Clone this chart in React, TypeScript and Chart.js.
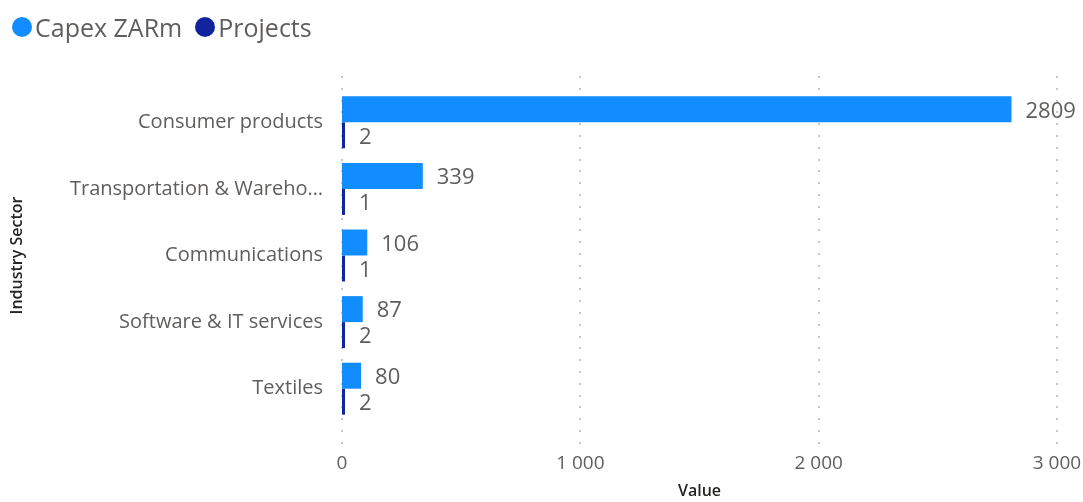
import React, { useEffect, useRef } from "react";
import { Chart, registerables } from "chart.js";

Chart.register(...registerables);

const categories = [
  "Consumer products",
  "Transportation & Wareho…",
  "Communications",
  "Software & IT services",
  "Textiles",
];
const capexValues = [2809, 339, 106, 87, 80];
const projectValues = [2, 1, 1, 2, 2];
const xTicks = [0, 1000, 2000, 3000];

const FONT = "'Segoe UI', 'Open Sans', sans-serif";
const LABEL_COLOR = "#605E5C";
const TITLE_COLOR = "#252423";
const CAPEX_COLOR = "#118DFF";
const PROJ_COLOR = "#12239E";

const fmt = (v: number) => String(Math.round(v)).replace(/\B(?=(\d{3})+(?!\d))/g, " ");

const dotGrid = {
  id: "dotGrid",
  beforeDatasetsDraw(chart: any) {
    const { ctx, scales } = chart;
    const x = scales.x;
    ctx.save();
    ctx.fillStyle = "#C8C6C4";
    for (const t of xTicks) {
      const px = Math.round(x.getPixelForValue(t));
      for (let y = 76; y <= 446; y += 11.8) {
        ctx.fillRect(px - 1, Math.round(y), 2, 2);
      }
    }
    ctx.restore();
  },
};

const dataLabels = {
  id: "dataLabels",
  afterDatasetsDraw(chart: any) {
    const { ctx } = chart;
    ctx.save();
    ctx.font = `22px ${FONT}`;
    ctx.fillStyle = LABEL_COLOR;
    ctx.textAlign = "left";
    ctx.textBaseline = "middle";
    chart.data.datasets.forEach((ds: any, di: number) => {
      const meta = chart.getDatasetMeta(di);
      meta.data.forEach((bar: any, i: number) => {
        ctx.fillText(String(ds.data[i]), bar.x + 14, bar.y + 2);
      });
    });
    ctx.restore();
  },
};

export default function App() {
  const ref = useRef<HTMLCanvasElement>(null);
  useEffect(() => {
    if (!ref.current) return;
    const chart = new Chart(ref.current, {
      type: "bar",
      data: {
        labels: categories,
        datasets: [
          {
            label: "Capex ZARm",
            data: capexValues,
            backgroundColor: CAPEX_COLOR,
            barPercentage: 1,
            categoryPercentage: 0.78,
          },
          {
            label: "Projects",
            data: projectValues,
            backgroundColor: PROJ_COLOR,
            barPercentage: 1,
            categoryPercentage: 0.78,
            minBarLength: 3,
          },
        ],
      },
      options: {
        indexAxis: "y",
        animation: false,
        responsive: false,
        maintainAspectRatio: false,
        layout: { padding: { top: 89, right: 0, left: 0, bottom: 0 } },
        plugins: { legend: { display: false }, tooltip: { enabled: false } },
        scales: {
          x: {
            min: 0,
            max: 3000,
            grid: { display: false, drawTicks: false },
            border: { display: false },
            afterBuildTicks(scale: any) {
              scale.ticks = xTicks.map((v) => ({ value: v }));
            },
            afterFit(scale: any) {
              scale.height = 80;
              scale.paddingRight = 26;
            },
            ticks: {
              padding: 30,
              color: LABEL_COLOR,
              font: { family: FONT, size: 19 },
              callback: (v: any) => fmt(Number(v)),
            },
            title: {
              display: true,
              text: "Value",
              color: TITLE_COLOR,
              font: { family: FONT, size: 16, weight: 600 },
              padding: { top: 0, bottom: 1 },
            },
          },
          y: {
            grid: { display: false, drawTicks: false },
            border: { display: false },
            afterFit(scale: any) {
              scale.width = 342;
            },
            ticks: {
              padding: 19,
              color: LABEL_COLOR,
              font: { family: FONT, size: 20 },
            },
            title: {
              display: true,
              text: "Industry Sector",
              color: TITLE_COLOR,
              font: { family: FONT, size: 16, weight: 600 },
              padding: { top: 8, bottom: 0 },
            },
          },
        },
      },
      plugins: [dotGrid, dataLabels],
    });
    return () => chart.destroy();
  }, []);

  const legendItem = (color: string, text: string, ml: number) => (
    <div style={{ display: "flex", alignItems: "center", marginLeft: ml }}>
      <span
        style={{
          width: 20,
          height: 20,
          borderRadius: "50%",
          background: color,
          display: "inline-block",
          marginRight: 3,
        }}
      />
      <span style={{ fontSize: 25, color: LABEL_COLOR, fontFamily: FONT }}>{text}</span>
    </div>
  );

  return (
    <div style={{ position: "absolute", left: 0, top: 0, width: 1083, height: 502, background: "#fff" }}>
      <canvas ref={ref} width={1083} height={502} style={{ position: "absolute", left: 0, top: 0 }} />
      <div style={{ position: "absolute", left: 12, top: 9, display: "flex", lineHeight: "36px" }}>
        {legendItem(CAPEX_COLOR, "Capex ZARm", 0)}
        {legendItem(PROJ_COLOR, "Projects", 13)}
      </div>
    </div>
  );
}
